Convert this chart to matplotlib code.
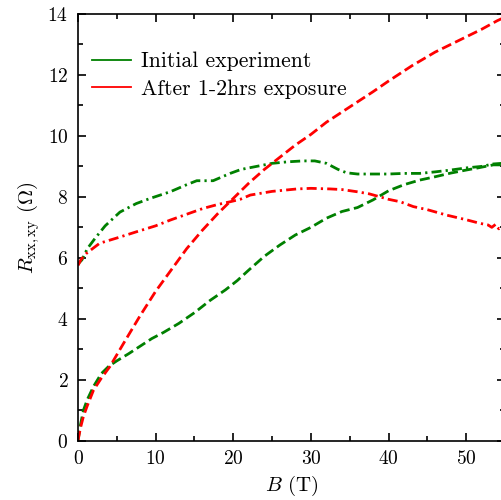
import numpy as np
import matplotlib
matplotlib.use("Agg")
import matplotlib.pyplot as plt
from matplotlib.lines import Line2D
from matplotlib.ticker import MultipleLocator

plt.rcParams['font.family'] = 'cmr10'
plt.rcParams['mathtext.fontset'] = 'cm'
plt.rcParams['axes.formatter.use_mathtext'] = True

# Initial experiment, Rxx (dashed)
b_xx_init = [0, 0.3, 0.7, 1.2, 2.0, 3.0, 4.0, 5.0, 6.5, 8.0, 9.5, 11, 13, 15, 17, 19, 20.5,
             22, 24, 26, 28, 30, 32, 34, 36, 38, 40, 42, 44, 46, 48, 50, 51.5, 52.5, 53.5, 54.6]
r_xx_init = [0, 0.5, 1.0, 1.35, 1.78, 2.2, 2.45, 2.62, 2.85, 3.1, 3.35, 3.55, 3.85, 4.2, 4.6,
             4.95, 5.25, 5.6, 6.05, 6.42, 6.75, 7.0, 7.3, 7.52, 7.65, 7.9, 8.2, 8.4, 8.55, 8.66,
             8.78, 8.88, 8.95, 9.0, 9.05, 9.05]

# Initial experiment, Rxy (dash-dot)
b_xy_init = [0, 0.5, 1.2, 2.2, 3.5, 5.4, 7.5, 9.3, 11.9, 14, 15.3, 17.4, 19.6, 21, 23, 25, 27,
             29, 30.5, 32, 33.5, 34.6, 36, 37.6, 40, 42, 44, 46, 48, 50, 52, 53.5, 54.6]
r_xy_init = [5.8, 5.93, 6.3, 6.64, 7.05, 7.5, 7.78, 7.95, 8.17, 8.4, 8.53, 8.53, 8.77, 8.9, 9.0,
             9.1, 9.15, 9.18, 9.18, 9.1, 8.9, 8.79, 8.75, 8.75, 8.75, 8.77, 8.77, 8.82, 8.88,
             8.95, 9.0, 9.08, 9.1]

# After 1-2hrs exposure, Rxx (dashed)
b_xx_exp = [0, 0.3, 0.7, 1.2, 2.0, 3.0, 4.1, 6, 8, 10, 12, 14, 16, 18, 20, 22, 24, 26, 28, 30,
            32, 35, 38, 40, 43, 46, 48, 50, 52, 54, 54.6]
r_xx_exp = [0, 0.4, 0.8, 1.15, 1.66, 2.05, 2.43, 3.25, 4.1, 4.9, 5.6, 6.3, 6.9, 7.45, 7.95, 8.45,
            8.9, 9.3, 9.7, 10.05, 10.45, 10.95, 11.45, 11.8, 12.3, 12.75, 13.0, 13.25, 13.5,
            13.78, 13.85]

# After 1-2hrs exposure, Rxy (dash-dot)
b_xy_exp = [0, 0.4, 1.1, 2.8, 5, 7.6, 10, 11.9, 14, 16.1, 18, 19.6, 20.9, 22.2, 25, 28.2, 30,
            32.5, 34, 35.9, 37.5, 38.9, 40, 41.5, 43.2, 45, 47.5, 50, 51.8, 52.8, 53.3, 53.8,
            54.2, 54.6]
r_xy_exp = [5.75, 5.95, 6.15, 6.48, 6.65, 6.86, 7.05, 7.24, 7.43, 7.62, 7.75, 7.84, 7.92, 8.06,
            8.18, 8.26, 8.28, 8.26, 8.24, 8.17, 8.1, 8.0, 7.92, 7.84, 7.68, 7.58, 7.4, 7.25,
            7.13, 7.08, 7.0, 7.1, 6.95, 7.02]

green = '#008000'
red = '#ff0000'

fig = plt.figure(figsize=(5.02, 5.0), dpi=100)
ax = fig.add_axes([78 / 502, 59.3 / 500, 427 / 502, 426.7 / 500])

ax.plot(b_xx_init, r_xx_init, color=green, lw=2.0, dashes=(3.6, 1.6))
ax.plot(b_xy_init, r_xy_init, color=green, lw=2.0, dashes=(3.6, 1.5, 0.8, 1.5))
ax.plot(b_xx_exp, r_xx_exp, color=red, lw=2.0, dashes=(3.6, 1.6))
ax.plot(b_xy_exp, r_xy_exp, color=red, lw=2.0, dashes=(3.6, 1.5, 0.8, 1.5))

ax.set_xlim(0, 55)
ax.set_ylim(0, 14)
ax.xaxis.set_major_locator(MultipleLocator(10))
ax.xaxis.set_minor_locator(MultipleLocator(5))
ax.yaxis.set_major_locator(MultipleLocator(2))
ax.yaxis.set_minor_locator(MultipleLocator(1))
ax.tick_params(which='both', direction='in', top=True, right=True, labelsize=14, width=1.2)
ax.tick_params(which='major', length=6, pad=7)
ax.tick_params(which='minor', length=3.5)
for s in ax.spines.values():
    s.set_linewidth(1.2)

ax.set_xlabel(r'$B$ (T)', fontsize=15, labelpad=4)
ax.set_ylabel(r'$R_{\rm xx,xy}$ ($\Omega$)', fontsize=15, labelpad=4)

handles = [Line2D([], [], color=green, lw=1.3), Line2D([], [], color=red, lw=1.3)]
ax.legend(handles, ['Initial experiment', 'After 1-2hrs exposure'], loc='upper left',
          bbox_to_anchor=(-0.005, 0.95), frameon=False, fontsize=15.7, handlelength=1.8,
          handletextpad=0.45, labelspacing=0.36, borderaxespad=0.35)

fig.savefig('out.png', dpi=100)
